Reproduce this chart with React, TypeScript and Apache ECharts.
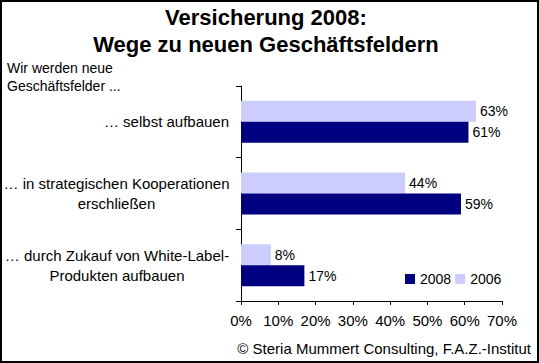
import React, { useEffect, useRef } from "react";
import * as echarts from "echarts";

const categories = [
  "… selbst aufbauen",
  "… in strategischen Kooperationen\nerschließen",
  "… durch Zukauf von White-Label-\nProdukten aufbauen",
];
const values2006 = [63, 44, 8];
const values2008 = [61, 59, 17];
const seriesNames = ["2008", "2006"];
const xTicks = { min: 0, max: 70, interval: 10 };

const FONT = "'Liberation Sans', Arial, sans-serif";

function measure(text: string, size: number): number {
  const c = document.createElement("canvas").getContext("2d");
  if (!c) return text.length * size * 0.5;
  c.font = `${size}px 'Liberation Sans', Arial, sans-serif`;
  return c.measureText(text).width;
}

export default function App() {
  const ref = useRef<HTMLDivElement>(null);
  useEffect(() => {
    if (!ref.current) return;
    const chart = echarts.init(ref.current, undefined, { renderer: "svg" });
    const rich: Record<string, any> = {};
    categories.forEach((c, i) => {
      const w = Math.max(...c.split("\n").map((l) => measure(l, 15)));
      rich["r" + i] = {
        width: Math.ceil(w) + 1,
        align: "center",
        fontSize: 15,
        lineHeight: 20,
        color: "#000",
        fontFamily: FONT,
      };
    });
    chart.setOption({
      animation: false,
      textStyle: { fontFamily: FONT },
      title: [
        {
          text: "Versicherung 2008:\nWege zu neuen Geschäftsfeldern",
          left: 261,
          top: -1,
          textAlign: "center",
          textStyle: { fontSize: 22, fontWeight: "bold", lineHeight: 27, color: "#000", fontFamily: FONT },
        },
        {
          text: "Wir werden neue\nGeschäftsfelder ...",
          left: 2,
          top: 54,
          textStyle: { fontSize: 14, fontWeight: "normal", lineHeight: 18, color: "#000", fontFamily: FONT },
        },
        {
          text: "© Steria Mummert Consulting, F.A.Z.-Institut",
          right: 3,
          top: 336,
          textStyle: { fontSize: 15, fontWeight: "normal", color: "#000", fontFamily: FONT },
        },
      ],
      graphic: [
        {
          type: "rect",
          shape: { x: 1, y: 1, width: 537, height: 361 },
          style: { fill: "none", stroke: "#000", lineWidth: 2 },
          silent: true,
        },
      ],
      legend: {
        data: seriesNames,
        left: 400,
        top: 267,
        itemWidth: 10,
        itemHeight: 10,
        itemGap: 4,
        icon: "rect",
        textStyle: { fontSize: 14, color: "#000", fontFamily: FONT },
      },
      grid: { left: 239, top: 86, width: 263, height: 215, containLabel: false },
      xAxis: {
        type: "value",
        min: xTicks.min,
        max: xTicks.max,
        interval: xTicks.interval,
        splitLine: { show: false },
        axisLine: { show: true, lineStyle: { color: "#000", width: 1 } },
        axisTick: { show: true, length: 4, lineStyle: { color: "#000" } },
        axisLabel: { formatter: "{value}%", fontSize: 15, color: "#000", margin: 12, fontFamily: FONT },
      },
      yAxis: {
        type: "category",
        inverse: true,
        data: categories,
        axisLine: { show: true, lineStyle: { color: "#000", width: 1 } },
        axisTick: { show: true, length: 5, lineStyle: { color: "#000" } },
        axisLabel: {
          margin: 11,
          align: "right",
          fontSize: 15,
          lineHeight: 20,
          color: "#000",
          formatter: (v: string) => {
            const i = categories.indexOf(v);
            return v
              .split("\n")
              .map((l) => `{r${i}|${l}}`)
              .join("\n");
          },
          rich,
        },
      },
      series: [
        {
          name: "2006",
          type: "bar",
          data: values2006,
          barWidth: 21,
          barGap: "0%",
          itemStyle: { color: "#CCCCFF" },
          label: {
            show: true,
            position: "right",
            distance: 4,
            formatter: "{c}%",
            fontSize: 14,
            color: "#000",
            fontFamily: FONT,
          },
        },
        {
          name: "2008",
          type: "bar",
          data: values2008,
          barWidth: 21,
          barGap: "0%",
          itemStyle: { color: "#000080" },
          label: {
            show: true,
            position: "right",
            distance: 4,
            formatter: "{c}%",
            fontSize: 14,
            color: "#000",
            fontFamily: FONT,
          },
        },
      ],
    });
    return () => chart.dispose();
  }, []);
  return (
    <div
      ref={ref}
      style={{ position: "absolute", left: 0, top: 0, width: 539, height: 363, background: "#fff" }}
    />
  );
}
